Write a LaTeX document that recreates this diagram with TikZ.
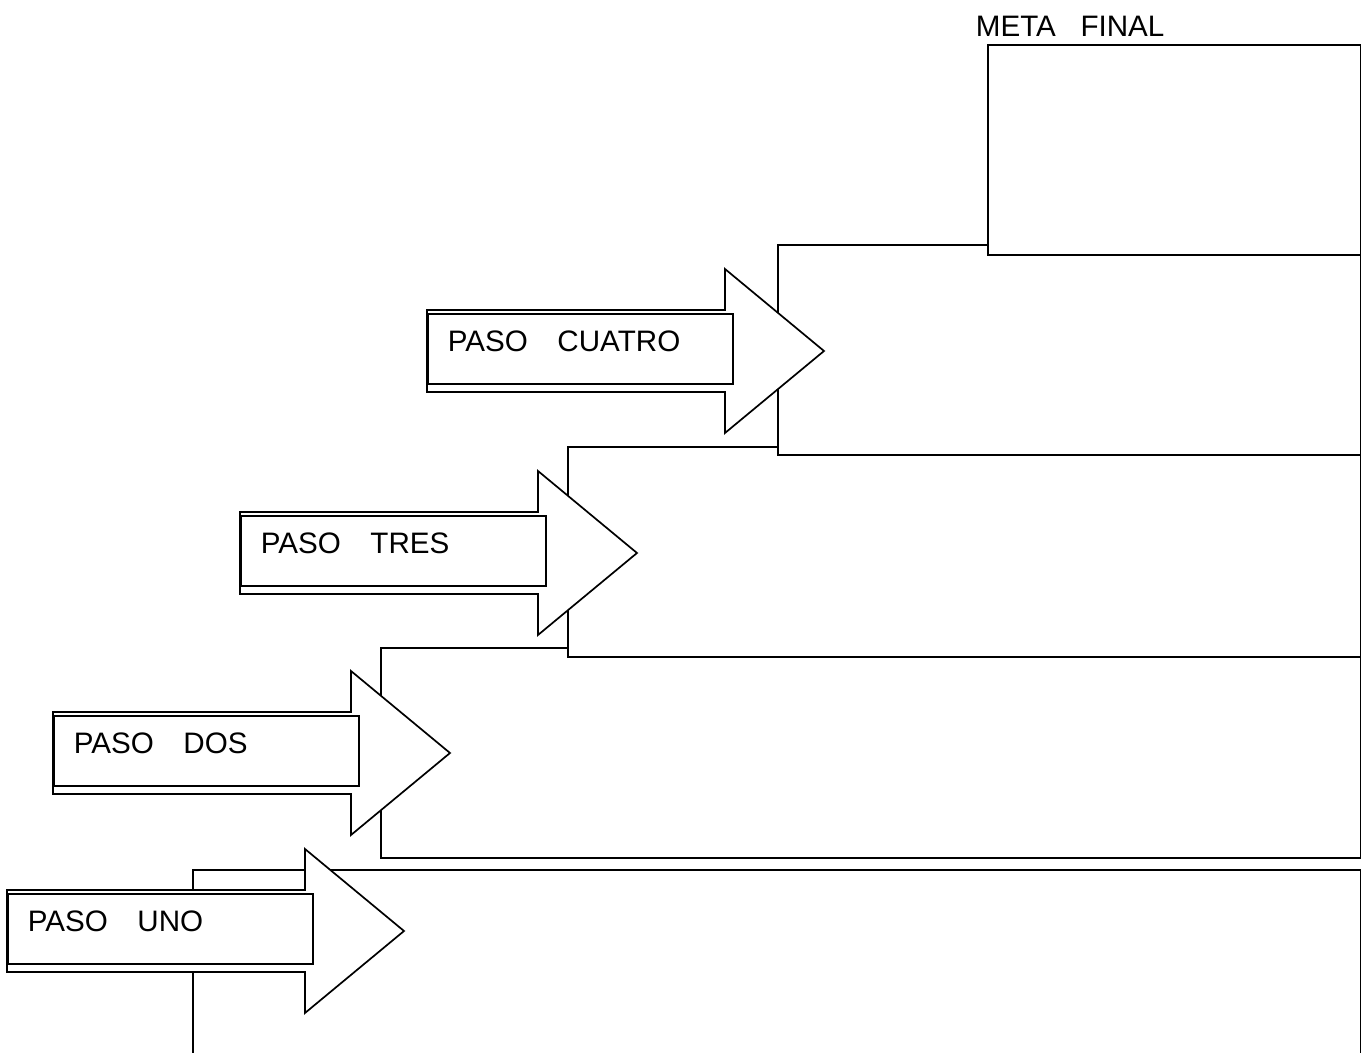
\documentclass[tikz,border=0pt]{standalone}
\usepackage{fontspec}
\setmainfont{Liberation Sans}
\usetikzlibrary{positioning}

\begin{document}
\begin{tikzpicture}[
  x=0.5pt, y=-0.5pt,
  font=\fontsize{14.8}{17}\selectfont,
  line width=0.85pt,
  stepbox/.style={draw, fill=white},
  arr/.style={draw, fill=white, line join=miter},
  lbl/.style={draw, fill=white, anchor=north west, inner xsep=10pt, inner ysep=9pt,
              text width=132.5pt, align=left, text height=10pt, text depth=7pt},
]
\useasboundingbox (0,0) rectangle (1361,1053);
% --- steps: box, arrow and label ---
\foreach \bx/\by/\ax/\ay/\nm/\txt in {193/870/7/890/uno/UNO, 381/648/53/712/dos/DOS,
    568/447/240/512/tres/TRES, 778/245/427/310/cuatro/CUATRO}{
  \path[stepbox] (\bx,\by) rectangle (1361,\by+210);
  \path[arr] (\ax,\ay) -- ++(298,0) -- ++(0,-41) -- ++(99,82) -- ++(-99,82)
    -- ++(0,-41) -- ++(-298,0) -- cycle;
  \node[lbl] (\nm) at (\ax,\ay+3) {PASO~~~\txt};
}
% --- final goal ---
\path[stepbox] (988,45) rectangle (1361,255);
\node[anchor=base west, inner sep=0pt] (meta) at (975,37) {META~~~FINAL};
\end{tikzpicture}
\end{document}
